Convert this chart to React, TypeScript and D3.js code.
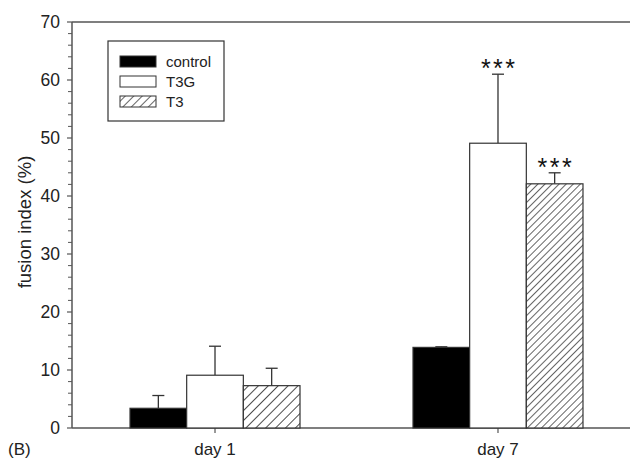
import React from "react";
import * as d3 from "d3";

const days = ["day 1", "day 7"];
const seriesNames = ["control", "T3G", "T3"];
const controlMeans = [3.4, 13.9];
const t3gMeans = [9.1, 49.1];
const t3Means = [7.3, 42.1];
const controlErr = [2.2, 0.1];
const t3gErr = [5.0, 11.9];
const t3Err = [3.0, 1.9];
const t3gStars = ["", "***"];
const t3Stars = ["", "***"];
const yTicks = [0, 10, 20, 30, 40, 50, 60, 70];

const W = 630;
const H = 460;
const left = 72;
const right = 641;
const top = 22;
const bottom = 428;
const font = "'Liberation Sans', Arial, Helvetica, sans-serif";

const seriesData = [
  { name: seriesNames[0], means: controlMeans, errs: controlErr, stars: ["", ""] },
  { name: seriesNames[1], means: t3gMeans, errs: t3gErr, stars: t3gStars },
  { name: seriesNames[2], means: t3Means, errs: t3Err, stars: t3Stars },
];

function fillFor(name: string, dayIdx: number) {
  if (name === "control") return "#000";
  if (name === "T3G") return "#fff";
  return dayIdx === 0 ? "url(#hatchWide)" : "url(#hatchNarrow)";
}

export default function App() {
  const x0 = d3
    .scaleBand<string>()
    .domain(days)
    .range([left, right])
    .paddingInner(0.3993)
    .paddingOuter(0.205);
  const x1 = d3
    .scaleBand<string>()
    .domain(seriesNames)
    .range([0, x0.bandwidth()])
    .padding(0);
  const y = d3.scaleLinear().domain([0, 70]).range([bottom, top]);
  const minor = d3.range(0, 71, 2).filter((v) => v % 10 !== 0);
  const capHalf = 6;
  const starSpacing = 2.5;

  return (
    <svg
      width={W}
      height={H}
      style={{ position: "absolute", left: 0, top: 0, background: "#fff" }}
      fontFamily={font}
    >
      <defs>
        <pattern id="hatchWide" patternUnits="userSpaceOnUse" width={7} height={7} patternTransform="rotate(45)">
          <rect width={7} height={7} fill="#fff" />
          <line x1={0} y1={0} x2={0} y2={7} stroke="#111" strokeWidth={1.5} />
        </pattern>
        <pattern id="hatchNarrow" patternUnits="userSpaceOnUse" width={5} height={5} patternTransform="rotate(45)">
          <rect width={5} height={5} fill="#fff" />
          <line x1={0} y1={0} x2={0} y2={5} stroke="#111" strokeWidth={1.3} />
        </pattern>
        <pattern id="hatchLegend" patternUnits="userSpaceOnUse" width={6} height={6} patternTransform="rotate(45)">
          <rect width={6} height={6} fill="#fff" />
          <line x1={0} y1={0} x2={0} y2={6} stroke="#111" strokeWidth={1.3} />
        </pattern>
      </defs>

      {/* axes frame */}
      <line x1={left} x2={right} y1={top} y2={top} stroke="#555" strokeWidth={1.5} />
      <line x1={left} x2={right} y1={bottom} y2={bottom} stroke="#555" strokeWidth={1.5} />
      <line x1={left} x2={left} y1={top} y2={bottom} stroke="#555" strokeWidth={1.5} />

      {/* y ticks */}
      {minor.map((v) => (
        <line key={"m" + v} x1={left - 4} x2={left} y1={y(v)} y2={y(v)} stroke="#555" strokeWidth={1} />
      ))}
      {yTicks.map((v) => (
        <g key={"t" + v}>
          <line x1={left - 5} x2={left} y1={y(v)} y2={y(v)} stroke="#555" strokeWidth={1.2} />
          <text x={left - 12} y={y(v)} dy="0.36em" textAnchor="end" fontSize={17.5} fill="#222">
            {v}
          </text>
        </g>
      ))}

      {/* x ticks and labels */}
      {days.map((d) => {
        const cx = (x0(d) as number) + x0.bandwidth() / 2;
        return (
          <g key={d}>
            <line x1={cx} x2={cx} y1={bottom} y2={bottom + 5} stroke="#555" strokeWidth={1.2} />
            <text x={cx} y={455} textAnchor="middle" fontSize={17} fill="#222">
              {d}
            </text>
          </g>
        );
      })}

      {/* bars */}
      {seriesData.map((s) =>
        days.map((d, i) => {
          const bx = (x0(d) as number) + (x1(s.name) as number);
          const bw = x1.bandwidth();
          const cx = bx + bw / 2;
          const yTop = y(s.means[i]);
          const yErr = y(s.means[i] + s.errs[i]);
          return (
            <g key={s.name + d}>
              <line x1={cx} x2={cx} y1={yTop} y2={yErr} stroke="#333" strokeWidth={1.3} />
              <line x1={cx - capHalf} x2={cx + capHalf} y1={yErr} y2={yErr} stroke="#333" strokeWidth={1.3} />
              <rect
                x={bx}
                y={yTop}
                width={bw}
                height={bottom - yTop}
                fill={fillFor(s.name, i)}
                stroke="#333"
                strokeWidth={1.2}
              />
              {s.stars[i] && (
                <text
                  x={cx + starSpacing / 2}
                  y={yErr + 3}
                  textAnchor="middle"
                  fontSize={25}
                  letterSpacing={starSpacing}
                  fill="#111"
                >
                  {s.stars[i]}
                </text>
              )}
            </g>
          );
        })
      )}

      {/* legend */}
      <rect x={108} y={41} width={116} height={80} fill="#fff" stroke="#333" strokeWidth={1.2} />
      {seriesNames.map((n, i) => {
        const sy = 56 + i * 20;
        return (
          <g key={"lg" + n}>
            <rect
              x={120}
              y={sy}
              width={36}
              height={11}
              fill={n === "control" ? "#000" : n === "T3G" ? "#fff" : "url(#hatchLegend)"}
              stroke="#333"
              strokeWidth={1}
            />
            <text x={166} y={sy + 5.5} dy="0.36em" fontSize={15} fill="#222">
              {n}
            </text>
          </g>
        );
      })}

      {/* y axis title */}
      <text
        transform={`translate(24,222) rotate(-90)`}
        textAnchor="middle"
        dy="0.36em"
        fontSize={18.5}
        fill="#222"
      >
        fusion index (%)
      </text>

      <text x={8} y={455} fontSize={17} fill="#222">
        (B)
      </text>
    </svg>
  );
}
